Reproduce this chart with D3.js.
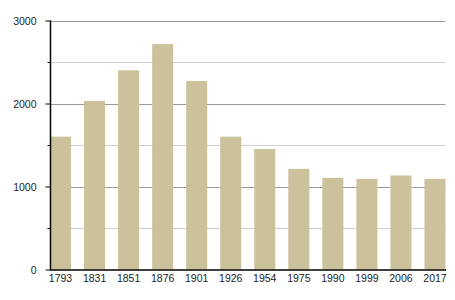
<!DOCTYPE html>
<html><head><meta charset="utf-8">
<script src="https://cdn.jsdelivr.net/npm/d3@7"></script>
<style>
html,body{margin:0;padding:0;background:#fff;}
svg{display:block;}
text{font-family:"Liberation Sans",Arial,Helvetica,sans-serif;font-size:10.5px;fill:#222;}
</style></head>
<body>
<svg id="chart" width="455" height="300"></svg>
<script>
const years = ["1793","1831","1851","1876","1901","1926","1954","1975","1990","1999","2006","2017"];
const values = [1600, 2030, 2400, 2716, 2272, 1600, 1452, 1212, 1104, 1092, 1132, 1092];
const majorTicks = [0, 1000, 2000, 3000];
const minorTicks = [500, 1500, 2500];

(function () {
const svg = d3.select("#chart");
const mLeft = 50, mRight = 445.5, mTop = 20.5, mBottom = 269.5;

const x = d3.scaleBand().domain(years).range([mLeft, mRight]).paddingInner(0.382).paddingOuter(0);
const y = d3.scaleLinear().domain([0, 3000]).range([mBottom, mTop]);

// gridlines
svg.append("g").selectAll("line").data(minorTicks).join("line")
  .attr("x1", mLeft).attr("x2", mRight)
  .attr("y1", d => Math.round(y(d)) + 0.5).attr("y2", d => Math.round(y(d)) + 0.5)
  .attr("stroke", "#cfcfcf").attr("stroke-width", 1);
svg.append("g").selectAll("line").data(majorTicks.filter(d => d > 0)).join("line")
  .attr("x1", mLeft).attr("x2", mRight)
  .attr("y1", d => Math.round(y(d)) + 0.5).attr("y2", d => Math.round(y(d)) + 0.5)
  .attr("stroke", "#9a9a9a").attr("stroke-width", 1);

// bars
svg.append("g").selectAll("rect").data(values).join("rect")
  .attr("x", (d, i) => x(years[i]))
  .attr("width", x.bandwidth())
  .attr("y", d => y(d))
  .attr("height", d => y(0) - y(d))
  .attr("fill", "#cbc29b");

// y axis
const yAxis = d3.axisLeft(y).tickValues(majorTicks).tickSize(5).tickPadding(9).tickFormat(d3.format("d"));
const gy = svg.append("g").attr("transform", `translate(${mLeft + 0.5},0)`).call(yAxis);
gy.select(".domain").remove();
gy.selectAll(".tick line").attr("stroke", "#000");
gy.selectAll(".tick text").style("font-size", "10.5px").attr("fill", "#222").attr("dy", "0.42em");
svg.append("g").selectAll("line").data(minorTicks).join("line")
  .attr("x1", mLeft - 2.5).attr("x2", mLeft + 0.5)
  .attr("y1", d => Math.round(y(d)) + 0.5).attr("y2", d => Math.round(y(d)) + 0.5)
  .attr("stroke", "#000");
svg.append("line").attr("x1", mLeft + 0.5).attr("x2", mLeft + 0.5)
  .attr("y1", y(3000)).attr("y2", y(0) + 1).attr("stroke", "#000").attr("stroke-width", 1.5);

// x axis
const xAxis = d3.axisBottom(x).tickSize(0).tickPadding(5);
const gx = svg.append("g").attr("transform", `translate(0,${mBottom})`).call(xAxis);
gx.select(".domain").remove();
gx.selectAll(".tick text").style("font-size", "10.5px").attr("fill", "#222");
svg.append("line").attr("x1", mLeft).attr("x2", mRight + 0.5)
  .attr("y1", mBottom + 0.5).attr("y2", mBottom + 0.5).attr("stroke", "#000").attr("stroke-width", 1.5);
})();
</script>
</body></html>
